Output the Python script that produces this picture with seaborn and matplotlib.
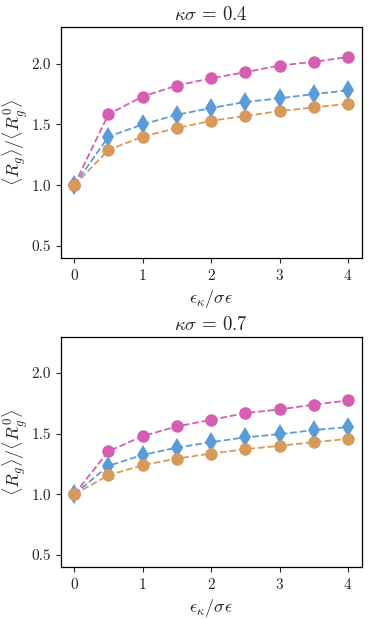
import numpy as np
import pandas as pd
import matplotlib
matplotlib.use("Agg")
import matplotlib.pyplot as plt
import seaborn as sns

sns.set_style("ticks")
plt.rcParams["font.family"] = "serif"
plt.rcParams["font.serif"] = ["cmr10", "DejaVu Serif"]
plt.rcParams["mathtext.fontset"] = "cm"
plt.rcParams["axes.formatter.use_mathtext"] = True

eps = [0, 0.5, 1, 1.5, 2, 2.5, 3, 3.5, 4]

# kappa sigma = 0.4
top_pink = [1.0, 1.585, 1.73, 1.82, 1.88, 1.93, 1.985, 2.015, 2.055]
top_blue = [1.0, 1.40, 1.50, 1.58, 1.635, 1.685, 1.715, 1.75, 1.78]
top_orange = [1.0, 1.29, 1.40, 1.47, 1.53, 1.57, 1.61, 1.64, 1.67]

# kappa sigma = 0.7
bot_pink = [1.0, 1.355, 1.48, 1.56, 1.614, 1.67, 1.70, 1.74, 1.774]
bot_blue = [1.0, 1.235, 1.325, 1.385, 1.43, 1.47, 1.496, 1.53, 1.555]
bot_orange = [1.0, 1.157, 1.24, 1.295, 1.336, 1.372, 1.40, 1.43, 1.457]

titles = [r"$\kappa\sigma\,=\,0.4$", r"$\kappa\sigma\,=\,0.7$"]
yticks = [0.5, 1.0, 1.5, 2.0]

colors = {"pink": "#d65db1", "blue": "#5a9bd8", "orange": "#d89a5a"}
markers = {"pink": "o", "blue": "d", "orange": "o"}

fig = plt.figure(figsize=(3.74, 6.19), dpi=100)
ax1 = fig.add_axes([0.162, 0.583, 0.805, 0.373])
ax2 = fig.add_axes([0.162, 0.084, 0.805, 0.372])

for ax, title, series in [
    (ax1, titles[0], {"pink": top_pink, "blue": top_blue, "orange": top_orange}),
    (ax2, titles[1], {"pink": bot_pink, "blue": bot_blue, "orange": bot_orange}),
]:
    for name, vals in series.items():
        df = pd.DataFrame({"x": eps, "y": vals})
        sns.lineplot(data=df, x="x", y="y", ax=ax, color=colors[name],
                     marker=markers[name], linestyle="--", linewidth=1.3,
                     markersize=9 if markers[name] == "o" else 10,
                     markeredgewidth=0)
    ax.set_xlim(-0.2, 4.2)
    ax.set_ylim(0.4, 2.3)
    ax.set_xticks([0, 1, 2, 3, 4])
    ax.set_yticks(yticks)
    ax.set_yticklabels([f"{v:.1f}" for v in yticks])
    ax.set_title(title, fontsize=13.5, pad=5)
    ax.set_xlabel(r"$\epsilon_\kappa/\sigma\epsilon$", fontsize=13)
    ax.set_ylabel(r"$\langle R_g\rangle/\langle R_g^0\rangle$", fontsize=13, labelpad=1)
    ax.tick_params(labelsize=11, length=3.5, width=0.8)
    for sp in ax.spines.values():
        sp.set_color("black")
        sp.set_linewidth(0.9)

fig.savefig("out.png", dpi=100)
